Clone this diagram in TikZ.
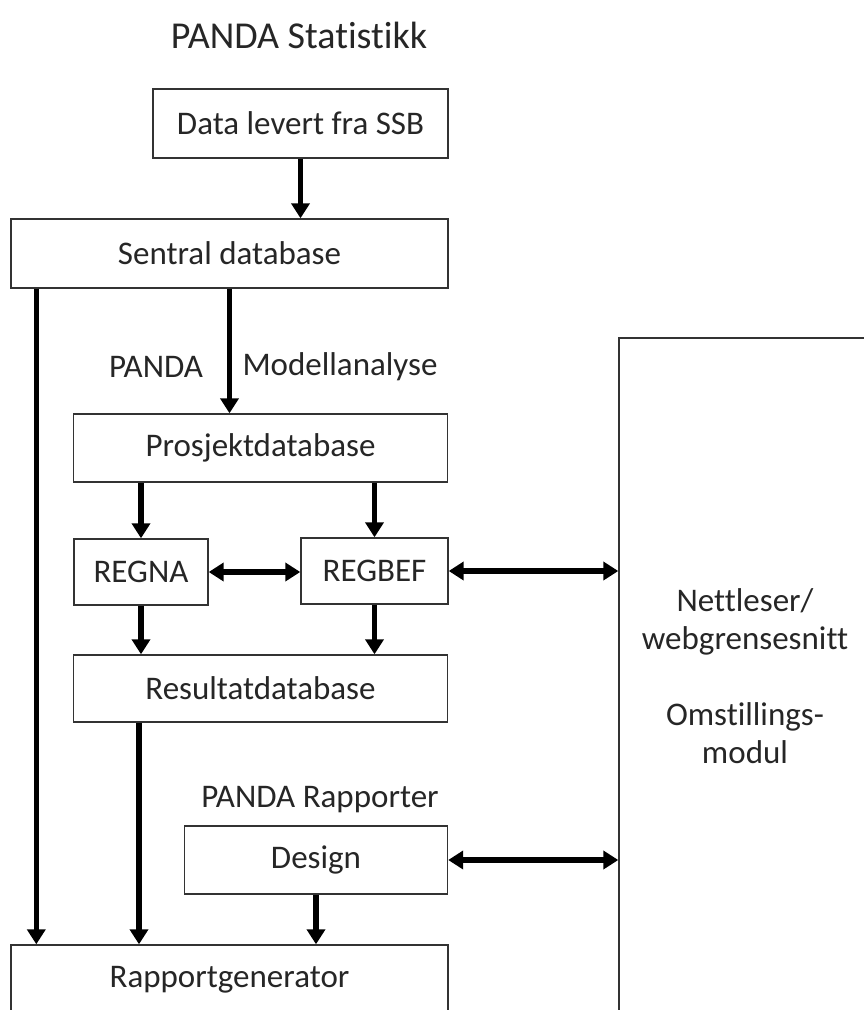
\documentclass[tikz,border=0pt]{standalone}
\usepackage{fontspec}
\setmainfont{Carlito}[Ligatures=NoCommon]
\usetikzlibrary{arrows.meta,positioning}
\begin{document}
\begin{tikzpicture}[x=1pt,y=-1pt,
  every node/.style={font=\fontsize{33}{38}\selectfont, text=black!85},
  box/.style={draw=black!80, line width=1.4pt, rectangle, inner sep=0pt, fill=white},
  arr/.style={line width=5.5pt, -{Triangle[width=18pt,length=15pt]}},
  darr/.style={line width=5.5pt, {Triangle[width=18pt,length=15pt]}-{Triangle[width=18pt,length=15pt]}},
  lbl/.style={inner sep=0pt}]
\clip (0,0) rectangle (864,1010);
\fill[white] (0,0) rectangle (864,1010);

\node[lbl, font=\fontsize{38}{44}\selectfont] (title) at (299,35) {PANDA Statistikk};
\node[box, minimum width=295pt, minimum height=69pt] (data) at (300.5,123.5) {Data levert fra SSB};
\node[box, minimum width=437pt, minimum height=69pt] (sentral) at (229.5,253.5) {Sentral database};
\node[lbl] (panda) at (156,367) {PANDA};
\node[lbl] (modell) at (340,367) {Modellanalyse};
\node[box, minimum width=374pt, minimum height=68pt] (prosj) at (260.5,448) {Prosjektdatabase};
\node[box, minimum width=134pt, minimum height=66pt] (regna) at (141,572) {REGNA};
\node[box, minimum width=147pt, minimum height=66pt] (regbef) at (374.5,571) {REGBEF};
\node[box, minimum width=374pt, minimum height=67pt] (result) at (260.5,688.5) {Resultatdatabase};
\node[lbl] (rapplbl) at (320,800) {PANDA Rapporter};
\node[box, minimum width=263pt, minimum height=68pt] (design) at (316,860) {Design};
\node[box, minimum width=437pt, minimum height=70pt] (rapport) at (229.5,980) {Rapportgenerator};
\node[box, minimum width=300pt, minimum height=740pt] (right) at (769,708) {};
\node[lbl, align=center] (righttext) at (745,676) {Nettleser/\\webgrensesnitt\\[38pt]Omstillings-\\modul};

\draw[arr] (data.south) -- (data.south |- sentral.north);
\draw[arr] (sentral.south) -- (sentral.south |- prosj.north);
\draw[arr] ([xshift=26pt]sentral.south west) -- ([xshift=26pt]sentral.south west |- rapport.north);
\draw[arr] (regna.north |- prosj.south) -- (regna.north);
\draw[arr] (regbef.north |- prosj.south) -- (regbef.north);
\draw[darr] (regna.east) -- (regna.east -| regbef.west);
\draw[darr] (regbef.east) -- (regbef.east -| right.west);
\draw[arr] (regna.south) -- (regna.south |- result.north);
\draw[arr] (regbef.south) -- (regbef.south |- result.north);
\draw[arr] ([xshift=-2pt]regna.south |- result.south) -- ([xshift=-2pt]regna.south |- rapport.north);
\draw[arr] (design.south) -- (design.south |- rapport.north);
\draw[darr] (design.east) -- (design.east -| right.west);
\end{tikzpicture}
\end{document}
